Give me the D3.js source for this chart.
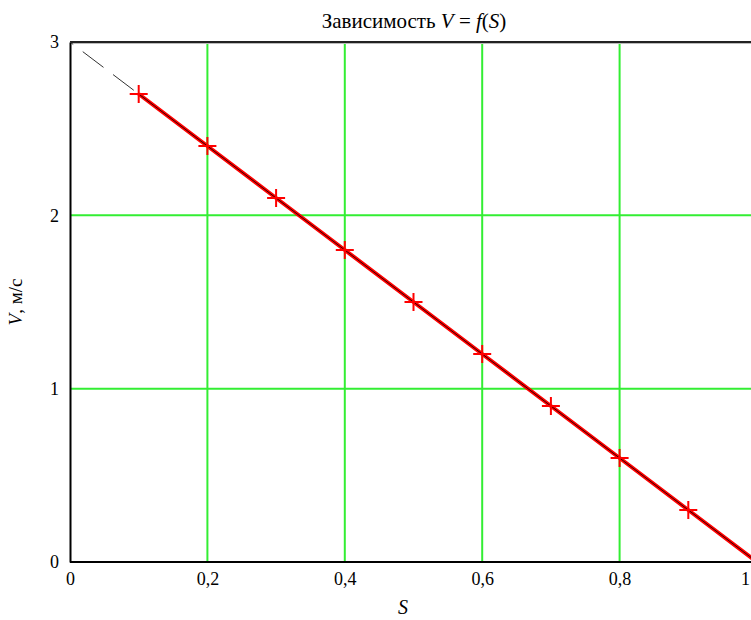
<!DOCTYPE html>
<meta charset="utf-8">
<script src="https://d3js.org/d3.v7.min.js"></script>
<style>
  body { margin: 0; background: #fff; }
  svg text { font-family: "Times New Roman", "Liberation Serif", "DejaVu Serif", serif !important; fill: #000; }
</style>
<div id="chart"></div>
<script>
// measured points
const sVals = [0.1, 0.2, 0.3, 0.4, 0.5, 0.6, 0.7, 0.8, 0.9, 1.0];
const vVals = [2.7, 2.4, 2.1, 1.8, 1.5, 1.2, 0.9, 0.6, 0.3, 0.0];
// markers drawn only on the first nine points
const markerCount = 9;
// fitted line V = f(S)
const fitS = [0, 1];
const fitV = [3, 0];
const xTicks = [0, 0.2, 0.4, 0.6, 0.8, 1];
const yTicks = [0, 1, 2, 3];

const W = 751, H = 620;
const margin = {top: 42, left: 70, bottom: 58};
const serif = "'Times New Roman', 'Liberation Serif', serif";

const svg = d3.select("#chart").append("svg")
  .attr("width", W).attr("height", H);

const x = d3.scaleLinear().domain([0, 1]).range([margin.left, 757]);
const y = d3.scaleLinear().domain([0, 3]).range([H - margin.bottom, margin.top]);

// grid
svg.append("g").selectAll("line")
  .data(xTicks.filter(d => d > 0 && d < 1))
  .join("line")
  .attr("x1", d => x(d)).attr("x2", d => x(d))
  .attr("y1", y(3)).attr("y2", y(0))
  .attr("stroke", "#33ee33").attr("stroke-width", 2);
svg.append("g").selectAll("line")
  .data(yTicks.filter(d => d > 0 && d < 3))
  .join("line")
  .attr("x1", x(0)).attr("x2", W)
  .attr("y1", d => y(d)).attr("y2", d => y(d))
  .attr("stroke", "#33ee33").attr("stroke-width", 2);

// frame
svg.append("line").attr("x1", x(0)).attr("x2", W).attr("y1", y(3)).attr("y2", y(3))
  .attr("stroke", "#222").attr("stroke-width", 2);
svg.append("line").attr("x1", x(0)).attr("x2", W).attr("y1", y(3) + 1.5).attr("y2", y(3) + 1.5)
  .attr("stroke", "#bbb").attr("stroke-width", 1);

// axes
const xAxis = svg.append("g")
  .attr("transform", `translate(0,${y(0)})`)
  .call(d3.axisBottom(x).tickValues(xTicks).tickSize(0).tickPadding(10)
    .tickFormat(d => String(d).replace(".", ",")))
  .attr("font-family", serif).attr("font-size", 18);
xAxis.select(".domain").attr("d", `M${x(0)},0H${W}`).attr("stroke", "#000").attr("stroke-width", 2);
xAxis.selectAll(".tick").filter(d => d === 1).select("text").attr("dx", -12);

const yAxis = svg.append("g")
  .attr("transform", `translate(${x(0)},0)`)
  .call(d3.axisLeft(y).tickValues(yTicks).tickSize(0).tickPadding(11)
    .tickFormat(d => String(d)))
  .attr("font-family", serif).attr("font-size", 18);
yAxis.select(".domain").attr("stroke", "#000").attr("stroke-width", 2);

svg.append("clipPath").attr("id", "plot")
  .append("rect").attr("x", x(0)).attr("y", y(3)).attr("width", W - x(0)).attr("height", y(0) - y(3));

const plot = svg.append("g").attr("clip-path", "url(#plot)");

const line = d3.line().x(d => x(d[0])).y(d => y(d[1]));
const fit = fitS.map((s, i) => [s, fitV[i]]);
const pts = sVals.map((s, i) => [s, vVals[i]]);

// fitted line, dashed
plot.append("path").datum(fit).attr("d", line)
  .attr("fill", "none").attr("stroke", "#333").attr("stroke-width", 1)
  .attr("stroke-dasharray", "26,12").attr("stroke-dashoffset", 22);

// measured line
plot.append("path").datum(pts).attr("d", line)
  .attr("fill", "none").attr("stroke", "#ff0000").attr("stroke-width", 4);
plot.append("path").datum(pts).attr("d", line)
  .attr("fill", "none").attr("stroke", "#000").attr("stroke-width", 0.8);

// markers
plot.append("g").selectAll("path")
  .data(pts.slice(0, markerCount))
  .join("path")
  .attr("d", d => {
    const cx = x(d[0]), cy = y(d[1]), r = 9;
    return `M${cx - r},${cy}H${cx + r}M${cx},${cy - r}V${cy + r}`;
  })
  .attr("stroke", "#ff0000").attr("stroke-width", 2);

// title
const title = svg.append("text").attr("x", 414).attr("y", 28)
  .attr("text-anchor", "middle").attr("font-family", serif).style("font-size", "21px");
title.append("tspan").text("Зависимость ");
title.append("tspan").style("font-style", "italic").text("V");
title.append("tspan").text(" = ");
title.append("tspan").style("font-style", "italic").text("f");
title.append("tspan").text("(");
title.append("tspan").style("font-style", "italic").text("S");
title.append("tspan").text(")");

// axis labels
svg.append("text").attr("x", 403).attr("y", 614)
  .attr("text-anchor", "middle").attr("font-family", serif)
  .style("font-size", "20px").style("font-style", "italic").text("S");

const yl = svg.append("text").attr("transform", "translate(22,302) rotate(-90)")
  .attr("text-anchor", "middle").attr("font-family", serif).style("font-size", "19px");
yl.append("tspan").style("font-style", "italic").text("V");
yl.append("tspan").text(", м/с");
</script>
